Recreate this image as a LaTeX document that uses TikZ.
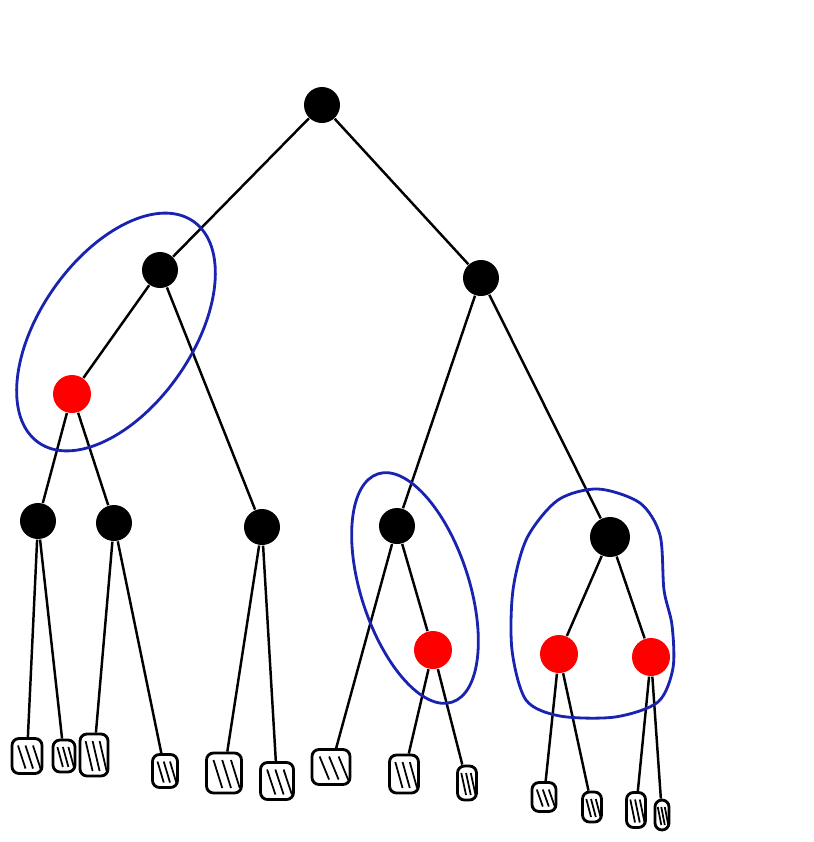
\documentclass[tikz,border=0pt]{standalone}
\usetikzlibrary{positioning,calc}
\definecolor{penblue}{RGB}{25,35,175}

\begin{document}
\begin{tikzpicture}[
    on grid,
    blk/.style={circle, fill=black, inner sep=0pt, minimum size=0.36cm},
    rd/.style={circle, fill=red, inner sep=0pt, minimum size=0.38cm},
    nil/.style={draw, rounded corners=2pt, line width=0.8pt, inner sep=0pt, minimum width=0.24cm, minimum height=0.33cm,
        path picture={
            \foreach \p/\q in {0.2/0.45,0.45/0.7,0.7/0.95}
                \draw[line width=0.5pt] ($(path picture bounding box.north west)!\p!(path picture bounding box.north east)+(0,-0.07)$)
                    -- ($(path picture bounding box.south west)!\q!(path picture bounding box.south east)+(0,0.05)$);
        }},
    edge/.style={line width=0.7pt},
    group/.style={draw=penblue, line width=0.8pt}
]
\useasboundingbox (0,0) rectangle (8.14,-8.42);

% inner nodes
\node[blk] (root) at (3.22,-1.05) {};
\node[blk, below left=1.65cm and 1.62cm of root] (l) {};
\node[blk, below right=1.73cm and 1.59cm of root] (r) {};
\node[rd, below left=1.24cm and 0.88cm of l] (ll) {};
\node[blk, below right=2.57cm and 1.02cm of l] (lr) {};
\node[blk, below left=1.27cm and 0.34cm of ll] (lll) {};
\node[blk, below right=1.29cm and 0.42cm of ll] (llr) {};
\node[blk, below left=2.48cm and 0.84cm of r] (rl) {};
\node[blk, minimum size=0.4cm, below right=2.59cm and 1.29cm of r] (rr) {};
\node[rd, below right=1.24cm and 0.36cm of rl] (rlr) {};
\node[rd, below left=1.17cm and 0.51cm of rr] (rrl) {};
\node[rd, below right=1.20cm and 0.41cm of rr] (rrr) {};

% leaves
\node[nil, minimum width=0.30cm, minimum height=0.35cm, below left=2.35cm and 0.11cm of lll] (n1) {};
\node[nil, minimum width=0.22cm, minimum height=0.32cm, below right=2.35cm and 0.26cm of lll] (n2) {};
\node[nil, minimum width=0.28cm, minimum height=0.42cm, below left=2.32cm and 0.20cm of llr] (n3) {};
\node[nil, minimum width=0.25cm, below right=2.48cm and 0.51cm of llr] (n4) {};
\node[nil, minimum width=0.35cm, minimum height=0.40cm, below left=2.46cm and 0.38cm of lr] (n5) {};
\node[nil, minimum width=0.33cm, minimum height=0.37cm, below right=2.54cm and 0.15cm of lr] (n6) {};
\node[nil, minimum width=0.38cm, minimum height=0.35cm, below left=2.41cm and 0.66cm of rl] (n7) {};
\node[nil, minimum width=0.29cm, minimum height=0.38cm, below left=1.24cm and 0.29cm of rlr] (n8) {};
\node[nil, minimum width=0.19cm, minimum height=0.34cm, below right=1.33cm and 0.34cm of rlr] (n9) {};
\node[nil, minimum width=0.24cm, minimum height=0.29cm, below left=1.43cm and 0.15cm of rrl] (n10) {};
\node[nil, minimum width=0.19cm, minimum height=0.30cm, below right=1.53cm and 0.33cm of rrl] (n11) {};
\node[nil, minimum width=0.19cm, minimum height=0.35cm, below left=1.53cm and 0.15cm of rrr] (n12) {};
\node[nil, minimum width=0.14cm, minimum height=0.30cm, below right=1.58cm and 0.11cm of rrr] (n13) {};

\foreach \a/\b in {root/l, root/r, l/ll, l/lr, ll/lll, ll/llr, r/rl, r/rr, rl/rlr, rr/rrl, rr/rrr,
    lll/n1, lll/n2, llr/n3, llr/n4, lr/n5, lr/n6, rl/n7, rlr/n8, rlr/n9, rrl/n10, rrl/n11, rrr/n12, rrr/n13}
    \draw[edge] (\a) -- (\b);

% blue groups
\begin{scope}[shift={($(l)!0.5!(ll)$)}, rotate=55]
    \draw[group] (0,0) ellipse (1.35cm and 0.76cm);
\end{scope}
\begin{scope}[shift={($(rl)!0.5!(rlr)$)}, rotate=-72]
    \draw[group] (0,0) ellipse (1.20cm and 0.54cm);
\end{scope}
\draw[group] plot[smooth cycle] coordinates {(5.98,-4.89) (6.40,-5.03) (6.60,-5.35) (6.64,-5.90) (6.72,-6.25)
    (6.73,-6.68) (6.58,-7.02) (6.15,-7.17) (5.60,-7.16) (5.26,-7.00) (5.12,-6.50) (5.13,-5.90) (5.27,-5.38) (5.58,-5.00)};
\end{tikzpicture}
\end{document}
